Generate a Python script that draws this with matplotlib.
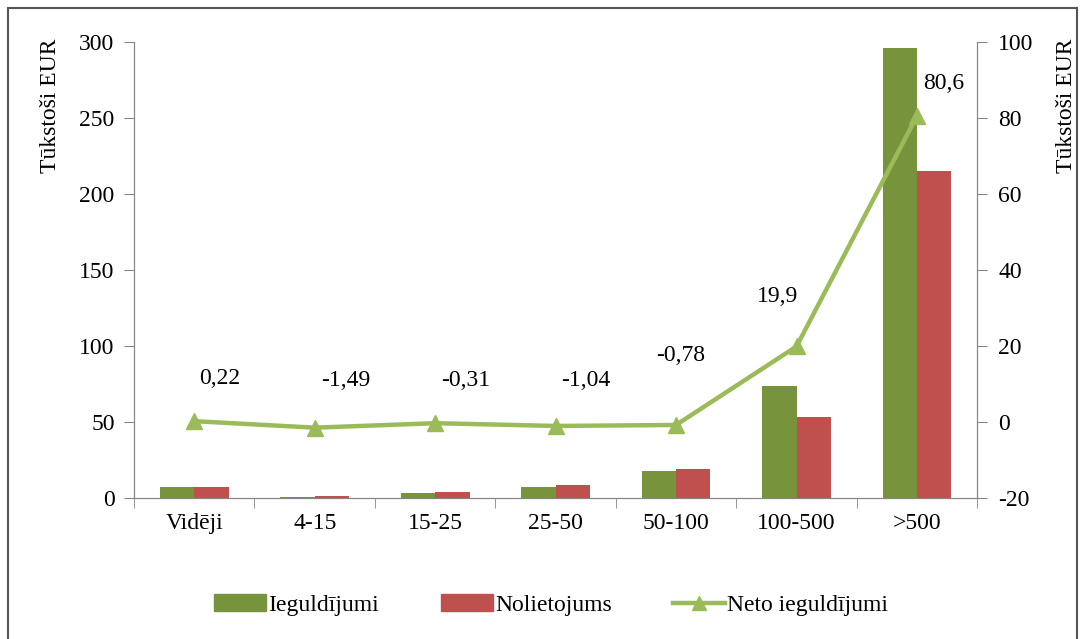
import numpy as np
import matplotlib.pyplot as plt
from matplotlib.patches import Rectangle
from matplotlib.lines import Line2D

plt.rcParams['font.family'] = ['Liberation Serif', 'DejaVu Serif']
plt.rcParams['axes.unicode_minus'] = False

groups = ['Vidēji', '4-15', '15-25', '25-50', '50-100', '100-500', '>500']
ieguldijumi = [7, 0.5, 3, 7, 17.5, 74, 296]
nolietojums = [7, 1.5, 4, 8.5, 19, 53, 215]
neto = [0.22, -1.49, -0.31, -1.04, -0.78, 19.9, 80.6]

green = '#77933C'
red = '#C0504D'
light = '#9BBB59'
gray = '#868686'
fs = 17

fig = plt.figure(figsize=(10.81, 6.39), dpi=100)
ax = fig.add_axes([0.124, 0.2207, 0.78, 0.7133])
ax2 = ax.twinx()

x = np.arange(len(groups))
w = 0.285
ax.bar(x - w / 2, ieguldijumi, w, color=green, label='Ieguldījumi', zorder=2)
ax.bar(x + w / 2, nolietojums, w, color=red, label='Nolietojums', zorder=2)
ax.set_xlim(-0.5, len(groups) - 0.5)
ax.set_ylim(0, 300)
ax.set_yticks(range(0, 301, 50))
ax.set_xticks(x)
ax.set_xticklabels(groups)
ax.set_xticks(np.arange(-0.5, len(groups)), minor=True)
ax.tick_params(axis='x', which='major', length=0, pad=11)
ax.tick_params(axis='x', which='minor', length=7, color=gray, direction='out')
ax.tick_params(axis='y', length=7, color=gray, direction='out', pad=7)
ax.tick_params(labelsize=fs)

ax2.plot(x, neto, color=light, lw=3.2, marker='^', ms=12, zorder=3,
         label='Neto ieguldījumi')
ax2.set_ylim(-20, 100)
ax2.set_yticks(range(-20, 101, 20))
ax2.tick_params(axis='y', length=7, color=gray, direction='out', pad=8,
                labelsize=fs)

# label offsets in points, per point
offs = [(18, 31), (22, 34), (22, 31), (22, 33), (3, 50), (-14, 36), (19, 23)]
for xi, v, o in zip(x, neto, offs):
    ax2.annotate(f'{v:g}'.replace('.', ','), (xi, v), xytext=o,
                 textcoords='offset points', ha='center', va='center',
                 fontsize=fs)

for a in (ax, ax2):
    a.spines['top'].set_visible(False)
    for s in ('left', 'right', 'bottom'):
        a.spines[s].set_color(gray)
    a.patch.set_visible(False)

ax.set_ylabel('Tūkstoši EUR', fontsize=fs)
ax.yaxis.set_label_coords(-0.087, 0.86)
ax2.set_ylabel('Tūkstoši EUR', fontsize=fs)
ax2.yaxis.set_label_coords(1.094, 0.86)

handles = [Rectangle((0, 0), 1, 1, color=green),
           Rectangle((0, 0), 1, 1, color=red),
           Line2D([], [], color=light, lw=3.2, marker='^', ms=10)]
fig.legend(handles, ['Ieguldījumi', 'Nolietojums', 'Neto ieguldījumi'],
           loc='center', bbox_to_anchor=(0.51, 0.053), ncol=3, frameon=False,
           fontsize=fs, handlelength=2.2, handletextpad=0.1, columnspacing=2.6)

fig.patches.append(Rectangle((8 / 1081, -0.01), 1069 / 1081, 1 - 8 / 639 + 0.01,
                             transform=fig.transFigure, fill=False,
                             edgecolor='#555555', lw=1.5))

fig.savefig('out.png', dpi=100)
